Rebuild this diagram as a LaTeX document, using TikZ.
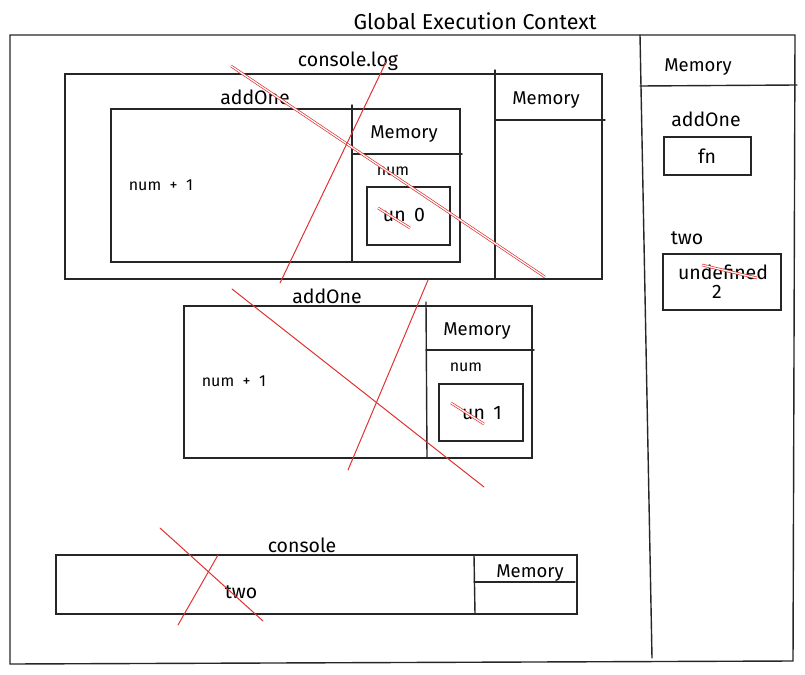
\documentclass[tikz,border=0pt]{standalone}
\usepackage{fontspec}
\setmainfont{Fira Sans}
\definecolor{xred}{RGB}{224,49,49}
\begin{document}
\begin{tikzpicture}[x=1pt,y=-1pt,
  ln/.style={line width=1.4pt, draw=black!85, line cap=round},
  thin/.style={line width=1.2pt, draw=black!85},
  redline/.style={draw=xred, line width=1pt, line cap=round},
  reddbl/.style={draw=xred, line width=0.7pt, double=white, double distance=1.2pt},
  big/.style={font=\fontsize{21.5}{24}\selectfont, inner sep=0pt},
  lbl/.style={font=\fontsize{19.5}{22}\selectfont, inner sep=0pt},
  mem/.style={font=\fontsize{18.5}{22}\selectfont, inner sep=0pt},
  sml/.style={font=\fontsize{16}{18}\selectfont, inner sep=0pt}
]
\useasboundingbox (0,0) rectangle (805,674);
% title
\node[big] (title) at (475,21) {Global Execution Context};
% outer frame
\draw[ln] (10,35) -- (795,35) -- (793,661) -- (10,664) -- cycle;
\draw[ln] (640,35) -- (652,658);
\draw[ln] (640,86) -- (797,85);
\node[mem] (gmem) at (698,67) {Memory};
\node[lbl] (gadd) at (706,119) {addOne};
\draw[thin] (664,137) rectangle (751,175);
\node[lbl] (gfn) at (707,156) {fn};
\node[lbl] (gtwo) at (687,238) {two};
\draw[thin] (663,254) rectangle (781,310);
\node[lbl] (gund) at (723,272) {undefined};
\node[lbl] (gval) at (717,292) {2};
\draw[reddbl] (702,265) -- (757,278);

% console.log frame
\node[lbl] (clog) at (348,61) {console.log};
\draw[ln] (65,74) rectangle (602,279);
\draw[ln] (495,70) -- (495,279);
\draw[ln] (495,120) -- (605,120);
\node[mem] (clmem) at (546,100) {Memory};

% inner addOne
\node[lbl] (a1) at (255,97) {addOne};
\draw[ln] (111,109) rectangle (460,262);
\draw[ln] (352,105) -- (352,262);
\draw[ln] (352,154) -- (462,154);
\node[mem] (a1mem) at (404,134) {Memory};
\node[sml] (a1num) at (393,171) {num};
\draw[thin] (367,187) rectangle (450,245);
\node[lbl] (a1val) at (404,215) {un\, 0};
\node[sml] (a1code) at (161,185) {num\ \ +\ \ 1};
\draw[reddbl] (378,208) -- (410,228);

% second addOne
\node[lbl] (a2) at (327,296) {addOne};
\draw[ln] (184,306) rectangle (532,458);
\draw[ln] (426,302) -- (427,458);
\draw[ln] (426,350) -- (534,350);
\node[mem] (a2mem) at (477,331) {Memory};
\node[sml] (a2num) at (466,367) {num};
\draw[thin] (439,384) rectangle (523,441);
\node[lbl] (a2val) at (482,413) {un\, 1};
\node[sml] (a2code) at (234,381) {num\ \ +\ \ 1};
\draw[reddbl] (451,403) -- (484,424);

% console
\node[lbl] (con) at (302,545) {console};
\draw[ln] (56,555) rectangle (577,614);
\draw[ln] (474,555) -- (475,614);
\draw[ln] (474,582) -- (575,582);
\node[mem] (cmem) at (530,573) {Memory};
\node[lbl] (ctwo) at (241,592) {two};

% red cross-outs
\draw[reddbl] (231,66) -- (545,277);
\draw[redline] (386,62) -- (280,283);
\draw[redline] (232,289) -- (484,487);
\draw[redline] (428,280) -- (348,470);
\draw[redline] (160,528) -- (263,621);
\draw[redline] (218,555) -- (178,625);
\end{tikzpicture}
\end{document}
